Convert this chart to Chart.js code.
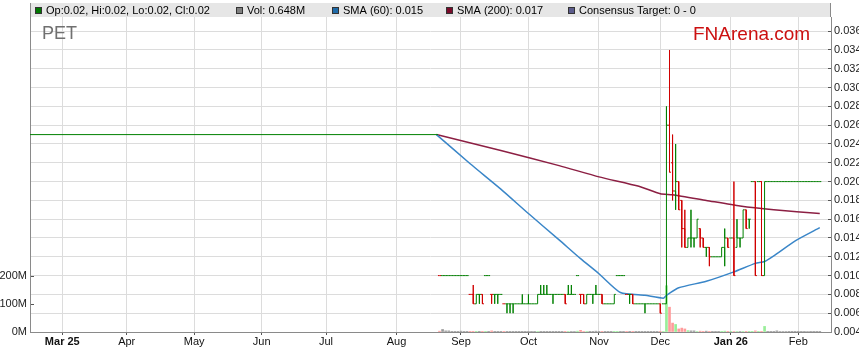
<!DOCTYPE html>
<html>
<head>
<meta charset="utf-8">
<script src="https://cdn.jsdelivr.net/npm/chart.js@4/dist/chart.umd.min.js"></script>
<style>
  html, body { margin: 0; padding: 0; background: #fff; }
  #wrap { width: 859px; height: 363px; }
</style>
</head>
<body>
<div id="wrap"><canvas id="chart" width="859" height="363"></canvas></div>
<script>
// x axis is a weekday index, 0 = Mon 17 Feb 2025
const monthTickIdx = [10, 31, 53, 75, 96, 119, 140, 162, 185, 205, 228, 250];
const monthTickLabels = ["Mar 25", "Apr", "May", "Jun", "Jul", "Aug", "Sep", "Oct", "Nov", "Dec", "Jan 26", "Feb"];
const priceTicks = [0.004, 0.006, 0.008, 0.010, 0.012, 0.014, 0.016, 0.018, 0.020,
  0.022, 0.024, 0.026, 0.028, 0.030, 0.032, 0.034, 0.036];
const volTicks = [0, 100, 200];

// suspended period: flat price line
const flatPrice = 0.025;
const flatFrom = -0.6;
const flatTo = 132.5;

// daily bars from index 133 onwards
const firstBar = 133;
const opens = [
  .010, .010, .010, .010, .010, .010, .010, .010, .010, .010,
  .008, .008, .007, .008, .008, .010, .010, .008, .008, .008,
  .008, .007, .007, .007, .007, .007, .007, .007, .007, .007,
  .007, .007, .007, .008, .008, .008, .008, .008, .008, .008,
  .008, .008, .008, .008, .008, .010, .008, .008, .007, .008,
  .008, .008, .008, .008, .007, .007, .007, .007, .010, .010,
  .010, .008, .008, .008, .007, .007, .007, .007, .007, .007,
  .007, .007, .007, .007, .007, .026, .022, .019, .020, .018,
  .015, .013, .014, .014, .014, .015, .014, .013, .013, .012,
  .012, .012, .012, .013, .014, .014, .014, .013, .014, .014,
  .017, .016, .020, .020, .020, .020, .010, .020, .020, .020,
  .020, .020, .020, .020, .020, .020, .020, .020, .020, .020,
  .020, .020, .020, .020, .020
];
const highs = [
  .010, .010, .010, .010, .010, .010, .010, .010, .010, .010,
  .008, .009, .008, .008, .008, .010, .010, .008, .008, .008,
  .008, .007, .007, .007, .007, .007, .007, .008, .007, .008,
  .007, .007, .008, .009, .009, .009, .008, .008, .008, .008,
  .008, .008, .009, .009, .008, .010, .008, .008, .008, .008,
  .008, .009, .008, .008, .007, .007, .007, .008, .010, .010,
  .010, .008, .008, .008, .007, .007, .007, .007, .007, .007,
  .007, .007, .007, .007, .028, .034, .025, .024, .020, .018,
  .017, .014, .017, .014, .016, .015, .014, .013, .013, .012,
  .012, .012, .013, .015, .014, .014, .020, .016, .014, .017,
  .017, .016, .020, .020, .020, .020, .020, .020, .020, .020,
  .020, .020, .020, .020, .020, .020, .020, .020, .020, .020,
  .020, .020, .020, .020, .020
];
const lows = [
  .010, .010, .010, .010, .010, .010, .010, .010, .010, .010,
  .008, .007, .007, .007, .007, .010, .010, .007, .007, .007,
  .008, .007, .006, .006, .006, .007, .007, .007, .007, .007,
  .007, .007, .007, .008, .008, .008, .008, .007, .008, .008,
  .008, .007, .008, .008, .008, .010, .007, .007, .007, .008,
  .007, .008, .008, .007, .007, .007, .007, .007, .010, .010,
  .010, .008, .007, .007, .007, .007, .007, .006, .007, .007,
  .007, .007, .006, .007, .007, .021, .018, .017, .017, .013,
  .013, .013, .013, .013, .014, .013, .013, .012, .011, .012,
  .012, .012, .012, .011, .013, .014, .010, .013, .013, .014,
  .015, .015, .020, .010, .020, .010, .010, .020, .020, .020,
  .020, .020, .020, .020, .020, .020, .020, .020, .020, .020,
  .020, .020, .020, .020, .020
];
const closes = [
  .010, .010, .010, .010, .010, .010, .010, .010, .010, .010,
  .008, .007, .008, .008, .007, .010, .010, .008, .008, .008,
  .008, .007, .007, .007, .007, .007, .007, .007, .007, .007,
  .007, .007, .008, .008, .008, .008, .008, .008, .008, .008,
  .008, .007, .008, .008, .008, .010, .008, .007, .008, .008,
  .008, .008, .008, .007, .007, .007, .007, .008, .010, .010,
  .010, .008, .008, .007, .007, .007, .007, .007, .007, .007,
  .007, .007, .006, .007, .026, .021, .019, .020, .017, .015,
  .013, .014, .014, .014, .016, .014, .013, .013, .012, .012,
  .012, .012, .013, .014, .013, .014, .010, .014, .014, .017,
  .015, .016, .020, .010, .020, .010, .020, .020, .020, .020,
  .020, .020, .020, .020, .020, .020, .020, .020, .020, .020,
  .020, .020, .020, .020, .020
];
// volume in millions
const volumes = [
  3, 9, 4, 4, 0.5, 0.5, 0.5, 3, 0.5, 0.5,
  0.5, 0.5, 0.5, 0.5, 0.5, 0.5, 0.5, 4, 0.5, 0.5,
  0.5, 0.5, 0.5, 0.5, 0.5, 0.5, 0.5, 0.5, 0.5, 0.5,
  0.5, 0.5, 2, 0.5, 0.5, 0.5, 0.5, 0.5, 0.5, 0.5,
  0.5, 0.5, 2, 2, 2, 3, 6, 2, 2, 0.5,
  0.5, 3, 0.5, 0.5, 0.5, 0.5, 0.5, 0.5, 0.5, 0.5,
  0.5, 0.5, 0.5, 0.5, 0.5, 0.5, 0.5, 0.5, 0.5, 0.5,
  0.5, 0.5, 0.5, 2, 166, 89, 32, 27, 11, 14,
  11, 5, 4, 4, 2, 3, 1, 3, 1, 0.5,
  0.5, 0.5, 0.5, 3, 0.5, 0.5, 2, 2, 2, 2,
  0.5, 0.5, 0.5, 4, 0.5, 0.5, 20, 0.5, 0.5, 0.5,
  4, 2, 2, 2, 0.5, 0.5, 0.5, 0.5, 0.5, 0.5,
  2, 0.5, 0.5, 0.5, 0.5
];

// moving averages
const sma60Idx = [132, 143, 153, 162, 172, 179, 185, 192, 200, 206, 207, 211, 220, 229, 236, 239, 242, 249, 257];
const sma60Val = [0.0250, 0.0219, 0.0192, 0.0166, 0.0138, 0.0118, 0.0102, 0.0082, 0.0079, 0.0076,
  0.0079, 0.0087, 0.0094, 0.0104, 0.0113, 0.0115, 0.0121, 0.0137, 0.0151];
const sma200Idx = [132, 153, 172, 185, 198, 205, 209, 220, 231, 242, 257];
const sma200Val = [0.0250, 0.0233, 0.0217, 0.0205, 0.0195, 0.0187, 0.0186, 0.0180, 0.0174, 0.0170, 0.0166];

const legendItems = [
  { color: "#007700", text: "Op:0.02, Hi:0.02, Lo:0.02, Cl:0.02", x: 35 },
  { color: "#808080", text: "Vol: 0.648M", x: 236 },
  { color: "#1f6aa8", text: "SMA (60): 0.015", x: 332 },
  { color: "#7a0a2a", text: "SMA (200): 0.017", x: 446 },
  { color: "#5c5c8c", text: "Consensus Target: 0 - 0", x: 568 },
];

const GREEN = "#008000";
const RED = "#d00000";
const FONT = "'Liberation Sans', Arial, sans-serif";

// colour of each bar: up/unchanged vs previous close
let barColors = [];
let volColors = [];
for (let k = 0; k < closes.length; k++) {
  const prev = k === 0 ? flatPrice : closes[k - 1];
  barColors.push(closes[k] >= prev ? GREEN : RED);
  if (closes[k] > prev) volColors.push("#99ee99");
  else if (closes[k] < prev) volColors.push("#ff9c9c");
  else volColors.push("#9a9a9a");
}

// each bar drawn as one short path: open tick, high-low stem, close tick
let ohlcPoints = [];
let volPoints = [];
for (let k = 0; k < closes.length; k++) {
  const i = firstBar + k;
  ohlcPoints.push(
    { x: i - 0.5, y: opens[k] },
    { x: i, y: opens[k] },
    { x: i, y: highs[k] },
    { x: i, y: lows[k] },
    { x: i, y: closes[k] },
    { x: i + 0.5, y: closes[k] },
    { x: i + 0.5, y: null }
  );
  volPoints.push({ x: i, y: volumes[k] });
}

const sma60Points = sma60Idx.map((x, j) => ({ x: x, y: sma60Val[j] }));
const sma200Points = sma200Idx.map((x, j) => ({ x: x, y: sma200Val[j] }));

const decor = {
  id: "decor",
  beforeDatasetsDraw(chart) {
    const c = chart.ctx;
    c.save();
    c.textBaseline = "alphabetic";
    c.font = "18px " + FONT;
    c.fillStyle = "#707070";
    c.fillText("PET", 42, 39);
    c.font = "19px " + FONT;
    c.fillStyle = "#cc1010";
    c.fillText("FNArena.com", 693, 40);
    c.restore();
  },
  afterDraw(chart) {
    const c = chart.ctx;
    const a = chart.chartArea;
    c.save();
    c.fillStyle = "#e6e6e6";
    c.fillRect(a.left, 3, a.right - a.left, a.top - 3);
    c.strokeStyle = "#8a8a8a";
    c.lineWidth = 1;
    c.beginPath();
    c.moveTo(a.left + 0.5, 3);
    c.lineTo(a.left + 0.5, a.top);
    c.moveTo(a.right - 0.5, 3);
    c.lineTo(a.right - 0.5, a.top);
    c.stroke();
    c.font = "11px " + FONT;
    c.textBaseline = "middle";
    legendItems.forEach((it) => {
      c.fillStyle = it.color;
      c.fillRect(it.x, 7, 6, 6);
      c.strokeStyle = "#333";
      c.strokeRect(it.x + 0.5, 7.5, 6, 6);
      c.fillStyle = "#000";
      c.fillText(it.text, it.x + 11, 10.5);
    });
    c.restore();
  },
};

const ctx = document.getElementById("chart").getContext("2d");
let config = {
  type: "line",
  data: {
    datasets: [
      {
        label: "price",
        data: ohlcPoints,
        yAxisID: "y",
        borderWidth: 1,
        borderColor: GREEN,
        pointRadius: 0,
        tension: 0,
        spanGaps: false,
        order: 0,
        segment: {
          borderColor: (s) => barColors[Math.floor(s.p0DataIndex / 7)],
        },
      },
      {
        label: "flat",
        data: [{ x: flatFrom, y: flatPrice }, { x: flatTo, y: flatPrice }],
        yAxisID: "y",
        borderWidth: 1,
        borderColor: GREEN,
        pointRadius: 0,
        order: 1,
      },
      {
        label: "SMA (60)",
        data: sma60Points,
        yAxisID: "y",
        borderWidth: 1.5,
        borderColor: "#3a86c8",
        pointRadius: 0,
        tension: 0.2,
        order: 2,
      },
      {
        label: "SMA (200)",
        data: sma200Points,
        yAxisID: "y",
        borderWidth: 1.5,
        borderColor: "#8c1f43",
        pointRadius: 0,
        tension: 0.2,
        order: 3,
      },
      {
        type: "bar",
        label: "Vol",
        data: volPoints,
        yAxisID: "y2",
        backgroundColor: volColors,
        barThickness: 2,
        grouped: false,
        order: 5,
      },
    ],
  },
  options: {
    responsive: false,
    animation: false,
    layout: { padding: { top: 17 } },
    plugins: { legend: { display: false }, tooltip: { enabled: false } },
    scales: {
      x: {
        type: "linear",
        offset: false,
        min: -0.53,
        max: 260.66,
        afterBuildTicks: (s) => { s.ticks = monthTickIdx.map((v) => ({ value: v })); },
        afterFit: (s) => { s.height = 31; },
        grid: { offset: false, color: "#dcdcdc", tickColor: "#555", tickLength: 3 },
        border: { color: "#8a8a8a" },
        ticks: {
          autoSkip: false,
          maxRotation: 0,
          padding: 0,
          color: "#111",
          font: (c) => ({
            family: FONT,
            size: 11,
            weight: c.tick && /\d/.test(monthTickLabels[monthTickIdx.indexOf(c.tick.value)]) ? "bold" : "normal",
          }),
          callback: (v) => monthTickLabels[monthTickIdx.indexOf(v)],
        },
      },
      y: {
        position: "right",
        min: 0.004,
        max: 0.03751,
        afterBuildTicks: (s) => { s.ticks = priceTicks.map((v) => ({ value: v })); },
        afterFit: (s) => { s.width = 28; },
        grid: { color: "#dcdcdc", tickColor: "#555", tickLength: -3 },
        border: { color: "#8a8a8a" },
        ticks: {
          padding: 6,
          color: "#222",
          font: { family: FONT, size: 11 },
          callback: (v) => v.toFixed(3),
        },
      },
      y2: {
        position: "left",
        min: 0,
        max: 1130,
        afterBuildTicks: (s) => { s.ticks = volTicks.map((v) => ({ value: v })); },
        afterFit: (s) => { s.width = 30; },
        grid: { drawOnChartArea: false, tickColor: "#555", tickLength: -4 },
        border: { color: "#8a8a8a" },
        ticks: {
          padding: 7,
          color: "#222",
          font: { family: FONT, size: 11 },
          callback: (v) => v + "M",
        },
      },
    },
  },
  plugins: [decor],
};
let myChart = new Chart(ctx, config);
</script>
</body>
</html>
